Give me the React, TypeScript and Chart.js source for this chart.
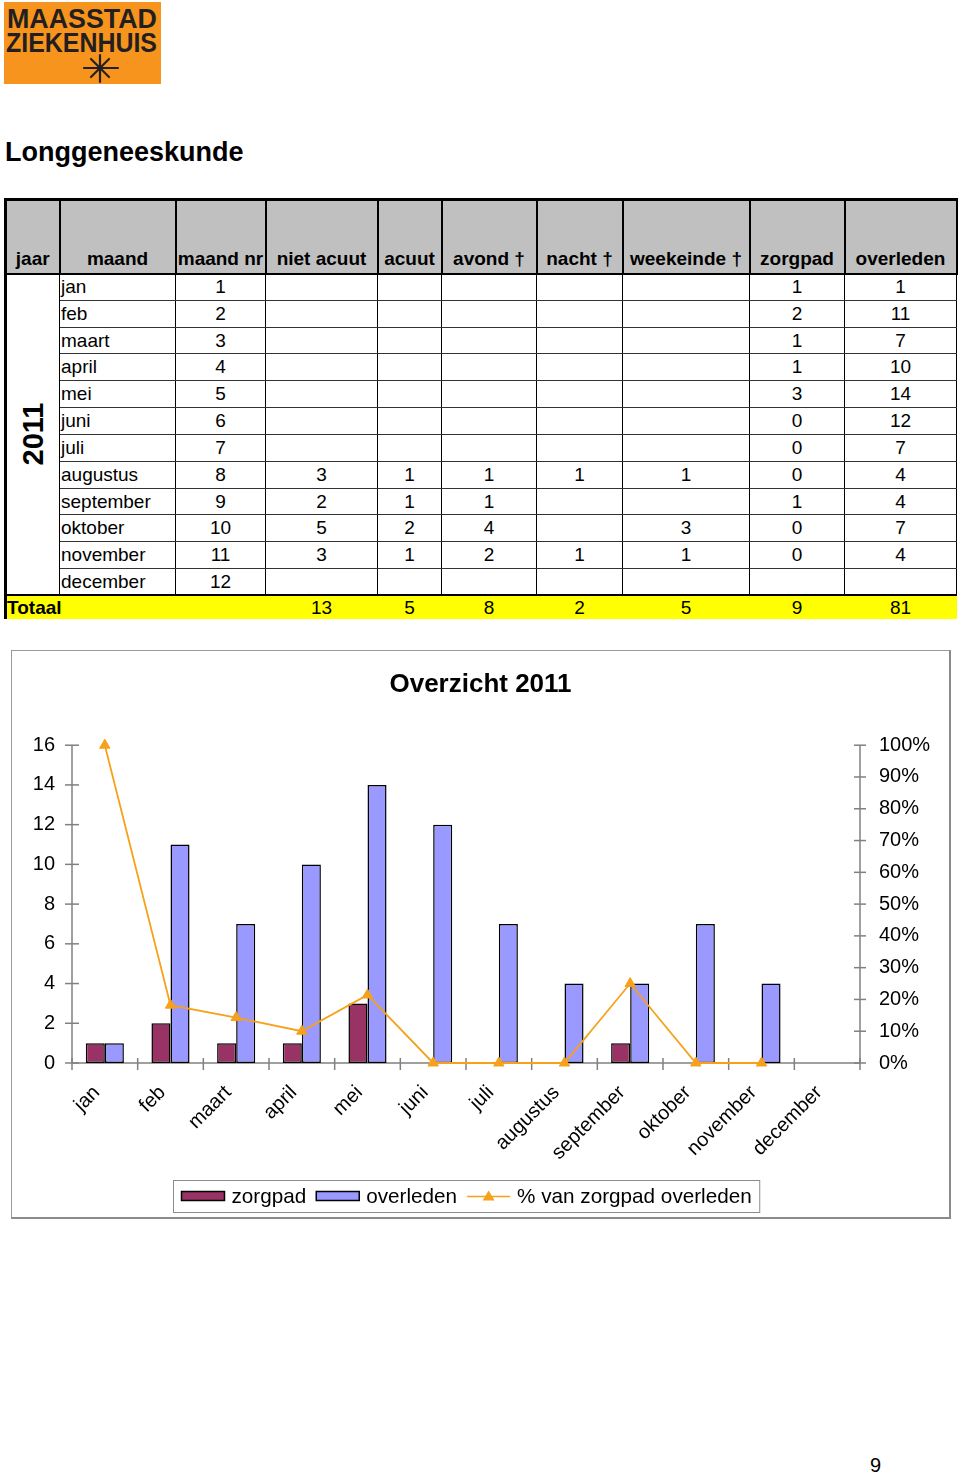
import React, { useEffect, useRef } from 'react';
import { Chart, registerables } from 'chart.js';

Chart.register(...registerables);

// ---------- data ----------
const months = ['jan', 'feb', 'maart', 'april', 'mei', 'juni', 'juli', 'augustus', 'september', 'oktober', 'november', 'december'];
const monthNr = [1, 2, 3, 4, 5, 6, 7, 8, 9, 10, 11, 12];
const nietAcuut = [null, null, null, null, null, null, null, 3, 2, 5, 3, null];
const acuut = [null, null, null, null, null, null, null, 1, 1, 2, 1, null];
const avond = [null, null, null, null, null, null, null, 1, 1, 4, 2, null];
const nacht = [null, null, null, null, null, null, null, 1, null, null, 1, null];
const weekeinde = [null, null, null, null, null, null, null, 1, null, 3, 1, null];
const zorgpad = [1, 2, 1, 1, 3, 0, 0, 0, 1, 0, 0, null];
const overleden = [1, 11, 7, 10, 14, 12, 7, 4, 4, 7, 4, null];
const pctZorgpadOverleden = [100, 18.2, 14.3, 10, 21.4, 0, 0, 0, 25, 0, 0, null];
const totals = [13, 5, 8, 2, 5, 9, 81];
const headers = ['jaar', 'maand', 'maand nr', 'niet acuut', 'acuut', 'avond †', 'nacht †', 'weekeinde †', 'zorgpad', 'overleden'];
const seriesLabels = ['zorgpad', 'overleden', '% van zorgpad overleden'];
const leftAxisMax = 16;
const leftAxisStep = 2;
const rightAxisMax = 100;
const rightAxisStep = 10;

// ---------- styling ----------
const FONT = '"Liberation Sans", Arial, Helvetica, sans-serif';
const colWidths = [54, 116, 90, 112, 64, 95, 86, 127, 95, 112];
const COL_ZORG = '#993366';
const COL_OVER = '#9999FF';
const COL_LINE = '#F7A11A';
const AXIS = '#808080';

const crossAxesPlugin = {
  id: 'crossAxes',
  beforeDatasetsDraw(chart: any) {
    const { ctx, chartArea: ca, scales } = chart;
    ctx.save();
    ctx.strokeStyle = AXIS;
    ctx.lineWidth = 1.5;
    const line = (x1: number, y1: number, x2: number, y2: number) => {
      ctx.beginPath();
      ctx.moveTo(x1, y1);
      ctx.lineTo(x2, y2);
      ctx.stroke();
    };
    line(ca.left, ca.top, ca.left, ca.bottom);
    scales.y.ticks.forEach((_t: any, i: number) => {
      const y = scales.y.getPixelForTick(i);
      line(ca.left - 7, y, ca.left + 7, y);
    });
    line(ca.right, ca.top, ca.right, ca.bottom);
    scales.y1.ticks.forEach((_t: any, i: number) => {
      const y = scales.y1.getPixelForTick(i);
      line(ca.right - 6, y, ca.right + 6, y);
    });
    line(ca.left, ca.bottom, ca.right, ca.bottom);
    const xs = scales.x;
    const n = xs.ticks.length;
    for (let i = 0; i <= n; i++) {
      const b = i === 0 ? ca.left : i === n ? ca.right : (xs.getPixelForTick(i - 1) + xs.getPixelForTick(i)) / 2;
      line(b, ca.bottom - 5, b, ca.bottom + 7);
    }
    ctx.restore();
  },
};

const boxLegendPlugin = {
  id: 'boxLegend',
  afterDraw(chart: any) {
    const { ctx, chartArea: ca } = chart;
    const ds = chart.data.datasets;
    ctx.save();
    ctx.font = `20.7px ${FONT}`;
    const sw = 43, gapT = 7, gapI = 10, padX = 8, h = 32;
    const widths = ds.map((d: any) => ctx.measureText(d.label).width);
    let total = padX * 2;
    widths.forEach((w: number, i: number) => {
      total += sw + gapT + w + (i < widths.length - 1 ? gapI : 0);
    });
    const cx = (ca.left + ca.right) / 2;
    const left = Math.round(cx - total / 2) + 0.5;
    const top = Math.round(ca.bottom + 117) + 0.5;
    ctx.strokeStyle = '#8c8c8c';
    ctx.lineWidth = 1;
    ctx.strokeRect(left, top, total, h);
    let x = left + padX;
    const cy = top + h / 2;
    ds.forEach((d: any, i: number) => {
      if (d.type === 'line') {
        ctx.strokeStyle = d.borderColor;
        ctx.lineWidth = 1.5;
        ctx.beginPath();
        ctx.moveTo(x, cy);
        ctx.lineTo(x + sw, cy);
        ctx.stroke();
        ctx.fillStyle = d.backgroundColor;
        const tx = x + sw / 2;
        ctx.beginPath();
        ctx.moveTo(tx, cy - 6);
        ctx.lineTo(tx + 6, cy + 4);
        ctx.lineTo(tx - 6, cy + 4);
        ctx.closePath();
        ctx.fill();
      } else {
        ctx.fillStyle = d.backgroundColor;
        ctx.fillRect(x, cy - 5, sw, 9);
        ctx.strokeStyle = '#000';
        ctx.lineWidth = 1.5;
        ctx.strokeRect(x, cy - 5, sw, 9);
      }
      x += sw + gapT;
      ctx.fillStyle = '#000';
      ctx.textBaseline = 'middle';
      ctx.textAlign = 'left';
      ctx.fillText(d.label, x, cy + 1);
      x += widths[i] + gapI;
    });
    ctx.restore();
  },
};

function OverviewChart() {
  const ref = useRef<HTMLCanvasElement | null>(null);
  useEffect(() => {
    if (!ref.current) return;
    const tickFont = { family: FONT, size: 20 };
    const chart = new Chart(ref.current, {
      type: 'bar',
      data: {
        labels: months,
        datasets: [
          {
            type: 'bar',
            label: seriesLabels[0],
            data: zorgpad,
            backgroundColor: COL_ZORG,
            borderColor: '#000',
            borderWidth: 1.5,
            borderSkipped: false,
            categoryPercentage: 0.58,
            barPercentage: 1,
            yAxisID: 'y',
            order: 1,
          },
          {
            type: 'bar',
            label: seriesLabels[1],
            data: overleden,
            backgroundColor: COL_OVER,
            borderColor: '#000',
            borderWidth: 1.5,
            borderSkipped: false,
            categoryPercentage: 0.58,
            barPercentage: 1,
            yAxisID: 'y',
            order: 1,
          },
          {
            type: 'line',
            label: seriesLabels[2],
            data: pctZorgpadOverleden,
            borderColor: COL_LINE,
            backgroundColor: COL_LINE,
            borderWidth: 1.8,
            pointStyle: 'triangle',
            pointRadius: 6,
            pointBorderWidth: 1,
            pointBackgroundColor: COL_LINE,
            pointBorderColor: COL_LINE,
            spanGaps: false,
            tension: 0,
            clip: false,
            yAxisID: 'y1',
            order: 0,
          },
        ] as any,
      },
      options: {
        animation: false,
        responsive: false,
        maintainAspectRatio: false,
        layout: { padding: { top: 0, bottom: 54, left: 0, right: 0 } },
        plugins: {
          legend: { display: false },
          tooltip: { enabled: false },
          title: {
            display: true,
            text: 'Overzicht 2011',
            color: '#000',
            font: { family: FONT, size: 26, weight: 'bold', lineHeight: 1.2 },
            padding: { top: 18, bottom: 45 },
          },
        },
        scales: {
          x: {
            offset: true,
            grid: { display: false, drawTicks: false },
            border: { display: false },
            ticks: { color: '#000', font: tickFont, minRotation: 45, maxRotation: 45, autoSkip: false, padding: 18, labelOffset: -8 },
            afterFit: (s: any) => { s.height = 100; },
          },
          y: {
            position: 'left',
            min: 0,
            max: leftAxisMax,
            grid: { display: false, drawTicks: false },
            border: { display: false },
            ticks: { stepSize: leftAxisStep, color: '#000', font: tickFont, padding: 17 },
            afterFit: (s: any) => { s.width = 60; },
          },
          y1: {
            position: 'right',
            min: 0,
            max: rightAxisMax,
            grid: { display: false, drawTicks: false },
            border: { display: false },
            ticks: { stepSize: rightAxisStep, color: '#000', font: tickFont, padding: 19, callback: (v: any) => `${v}%` },
            afterFit: (s: any) => { s.width = 89; },
          },
        },
      } as any,
      plugins: [crossAxesPlugin, boxLegendPlugin],
    });
    return () => chart.destroy();
  }, []);
  return <canvas ref={ref} width={937} height={566} style={{ display: 'block', width: 937, height: 566 }} />;
}

function Logo() {
  return (
    <svg width={157} height={82} style={{ position: 'absolute', left: 4, top: 2 }}>
      <rect x={0} y={0} width={157} height={82} fill="#F7941D" />
      <text x={3} y={26} fontFamily={FONT} fontWeight="bold" fontSize={28} fill="#231F20" textLength={150} lengthAdjust="spacingAndGlyphs">MAASSTAD</text>
      <text x={2} y={50} fontFamily={FONT} fontWeight="bold" fontSize={28} fill="#231F20" textLength={151} lengthAdjust="spacingAndGlyphs">ZIEKENHUIS</text>
      <g stroke="#231F20" strokeWidth={2.2} strokeLinecap="round">
        <line x1={80} y1={66} x2={114} y2={66} />
        <line x1={96} y1={53} x2={96} y2={80} />
        <line x1={87} y1={57} x2={105} y2={75} />
        <line x1={105} y1={57} x2={87} y2={75} />
      </g>
    </svg>
  );
}

function DataTable() {
  const hdr = (i: number): React.CSSProperties => ({
    width: colWidths[i],
    background: '#C0C0C0',
    borderTop: '3px solid #000',
    borderLeft: i === 0 ? '3px solid #000' : '2px solid #000',
    borderRight: '2px solid #000',
    borderBottom: '2px solid #000',
    verticalAlign: 'bottom',
    fontWeight: 'bold',
    fontSize: 19,
    padding: '0 1px 3px',
    textAlign: 'center',
    whiteSpace: 'nowrap',
    overflow: 'hidden',
  });
  const cell = (align: 'left' | 'center'): React.CSSProperties => ({
    borderTop: '1px solid #333',
    borderBottom: '1px solid #333',
    borderLeft: '1px solid #000',
    borderRight: '1px solid #000',
    fontSize: 19,
    padding: align === 'left' ? '0 0 0 1px' : 0,
    textAlign: align,
    verticalAlign: 'middle',
    whiteSpace: 'nowrap',
    lineHeight: '22px',
  });
  const tot: React.CSSProperties = {
    background: '#FFFF00',
    borderTop: '2px solid #000',
    fontSize: 19,
    textAlign: 'center',
    padding: 0,
    lineHeight: '22px',
  };
  return (
    <table style={{ position: 'absolute', left: 4, top: 198, borderCollapse: 'collapse', tableLayout: 'fixed', width: 951, fontFamily: FONT, color: '#000' }}>
      <colgroup>
        {colWidths.map((w, i) => <col key={i} style={{ width: w }} />)}
      </colgroup>
      <tbody>
        <tr style={{ height: 74 }}>
          {headers.map((h, i) => <td key={i} style={hdr(i)}>{h}</td>)}
        </tr>
        {months.map((m, r) => {
          const vals = [monthNr[r], nietAcuut[r], acuut[r], avond[r], nacht[r], weekeinde[r], zorgpad[r], overleden[r]];
          return (
            <tr key={m} style={{ height: 26.83 }}>
              {r === 0 && (
                <td rowSpan={12} style={{ borderLeft: '3px solid #000', borderRight: '1px solid #000', padding: 0, position: 'relative' }}>
                  <div style={{ position: 'absolute', left: '50%', top: '50%', transform: 'translate(-50%, -50%) rotate(-90deg)', fontWeight: 'bold', fontSize: 29, whiteSpace: 'nowrap' }}>2011</div>
                </td>
              )}
              <td style={cell('left')}>{m}</td>
              {vals.map((v, i) => <td key={i} style={cell('center')}>{v === null ? '' : v}</td>)}
            </tr>
          );
        })}
        <tr style={{ height: 24 }}>
          <td colSpan={3} style={{ ...tot, textAlign: 'left', fontWeight: 'bold', borderLeft: '3px solid #000', paddingLeft: 0 }}>Totaal</td>
          {totals.map((t, i) => <td key={i} style={tot}>{t}</td>)}
        </tr>
      </tbody>
    </table>
  );
}

export default function App() {
  return (
    <div style={{ position: 'absolute', left: 0, top: 0, width: 960, height: 1473, background: '#fff', fontFamily: FONT, color: '#000' }}>
      <Logo />
      <div style={{ position: 'absolute', left: 5, top: 139, fontSize: 27, fontWeight: 'bold', lineHeight: '27px', whiteSpace: 'nowrap' }}>Longgeneeskunde</div>
      <DataTable />
      <div style={{ position: 'absolute', left: 11, top: 650, width: 940, height: 569, boxSizing: 'border-box', borderTop: '1px solid #9a9a9a', borderLeft: '1px solid #9a9a9a', borderRight: '2px solid #8a8a8a', borderBottom: '2px solid #8a8a8a' }}>
        <OverviewChart />
      </div>
      <div style={{ position: 'absolute', left: 870, top: 1453, fontSize: 20, lineHeight: '24px' }}>9</div>
    </div>
  );
}
